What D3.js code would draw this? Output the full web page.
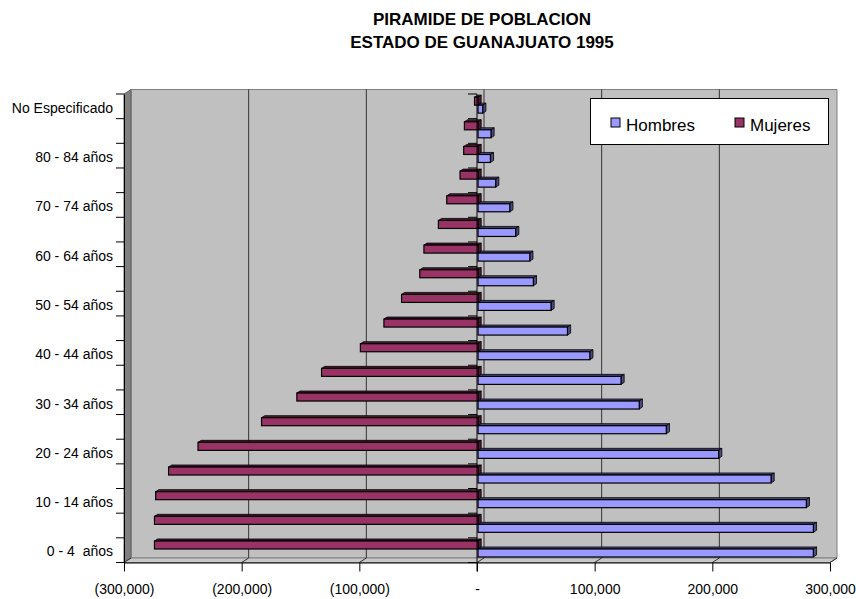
<!DOCTYPE html>
<html>
<head>
<meta charset="utf-8">
<script src="https://cdn.jsdelivr.net/npm/d3@7"></script>
<style>
  body { margin: 0; background: #fff; }
  svg { display: block; }
  text { font-family: "Liberation Sans", Arial, sans-serif; fill: #000; }
</style>
</head>
<body>
<div id="chart"></div>
<script>

var titleLines = ["PIRAMIDE DE POBLACION", "ESTADO DE GUANAJUATO 1995"];

var categories = ["0 - 4  años", "5 - 9 años", "10 - 14 años", "15 - 19 años", "20 - 24 años",
  "25 - 29 años", "30 - 34 años", "35 - 39 años", "40 - 44 años", "45 - 49 años",
  "50 - 54 años", "55 - 59 años", "60 - 64 años", "65 - 69 años", "70 - 74 años",
  "75 - 79 años", "80 - 84 años", "85 y más", "No Especificado"];

var hombres = [285000, 285000, 279000, 249000, 204500, 160000, 137000, 121500, 95000, 76000,
  62000, 47000, 44000, 32000, 27000, 15000, 10500, 11000, 4000];
var mujeres = [275000, 275000, 274000, 263000, 238000, 184000, 154000, 133000, 100000, 80000,
  65000, 49500, 46000, 33700, 26600, 15300, 12200, 11600, 3000];

var tickValues = [-300000, -200000, -100000, 0, 100000, 200000, 300000];
var tickLabels = ["(300,000)", "(200,000)", "(100,000)", "-", "100,000", "200,000", "300,000"];

var seriesNames = ["Hombres", "Mujeres"];
var seriesColors = { Hombres: "#9999ff", Mujeres: "#993366" };
var shadeColors = { Hombres: "#4c4c80", Mujeres: "#4c1933" };

var width = 856, height = 599;
var plot = { left: 124, right: 830, top: 94, bottom: 562.5 };
var depth = [7, -4.5];   // offset from the front plane to the back wall

function pt(px, py, z) {
  return [px + depth[0] * z, py + depth[1] * z];
}

var svg = d3.select("#chart").append("svg")
  .attr("width", width)
  .attr("height", height);

// title
svg.selectAll("text.title")
  .data(titleLines)
  .enter().append("text")
  .attr("class", "title")
  .attr("x", 482)
  .attr("y", function(d, i) { return 25 + i * 23; })
  .attr("text-anchor", "middle")
  .style("font-weight", "bold")
  .style("font-size", "17px")
  .text(function(d) { return d; });

var x = d3.scaleLinear()
  .domain([-300000, 300000])
  .range([plot.left, plot.right]);

var y = d3.scaleBand()
  .domain(categories)
  .range([plot.bottom, plot.top]);

var bw = y.bandwidth();
var ys = d3.scaleBand()
  .domain(["Mujeres", "Hombres"])
  .range([bw / 2 - 8.5, bw / 2 + 7.5]);

var L = plot.left, R = plot.right, T = plot.top, B = plot.bottom;

// back wall
svg.append("polygon")
  .attr("points", [pt(L, T, 1), pt(R, T, 1), pt(R, B, 1), pt(L, B, 1)].join(" "))
  .attr("fill", "#c0c0c0")
  .attr("stroke", "#808080");

// left wall
svg.append("polygon")
  .attr("points", [pt(L, T, 0), pt(L, T, 1), pt(L, B, 1), pt(L, B, 0)].join(" "))
  .attr("fill", "#808080")
  .attr("stroke", "#606060");

// floor
svg.append("polygon")
  .attr("points", [pt(L, B, 0), pt(R, B, 0), pt(R, B, 1), pt(L, B, 1)].join(" "))
  .attr("fill", "#c8c8c8")
  .attr("stroke", "#808080");

// gridlines on the wall and the floor
var grid = svg.append("g").attr("stroke", "#333").attr("stroke-width", 1);
tickValues.forEach(function(v) {
  var a = pt(x(v), B, 0), b = pt(x(v), B, 1), c = pt(x(v), T, 1);
  grid.append("line")
    .attr("x1", a[0]).attr("y1", a[1]).attr("x2", b[0]).attr("y2", b[1]);
  if (v > -300000 && v < 300000) {
    grid.append("line")
      .attr("x1", b[0]).attr("y1", b[1]).attr("x2", c[0]).attr("y2", c[1]);
  }
});

// 3d bars
var zFront = 0.15, zBack = 0.6;
function bar3d(g, x0, x1, y0, y1, name) {
  var f0 = pt(x0, y0, zFront), f1 = pt(x1, y1, zFront);
  var b0 = pt(x0, y0, zBack), b1 = pt(x1, y1, zBack);
  // top face
  g.append("polygon")
    .attr("points", [[f0[0], f0[1]], [f1[0], f0[1]], [b1[0], b0[1]], [b0[0], b0[1]]].join(" "))
    .attr("fill", shadeColors[name]).attr("stroke", "#000").attr("stroke-width", 0.8);
  // end face
  g.append("polygon")
    .attr("points", [[f1[0], f0[1]], [b1[0], b0[1]], [b1[0], b1[1]], [f1[0], f1[1]]].join(" "))
    .attr("fill", shadeColors[name]).attr("stroke", "#000").attr("stroke-width", 0.8);
  // front face
  g.append("rect")
    .attr("x", f0[0]).attr("y", f0[1])
    .attr("width", f1[0] - f0[0]).attr("height", f1[1] - f0[1])
    .attr("fill", seriesColors[name]).attr("stroke", "#000").attr("stroke-width", 1.2);
}

var bars = svg.append("g");
categories.slice().reverse().forEach(function(cat) {
  var i = categories.indexOf(cat);
  var top = y(cat);
  var yM = top + ys("Mujeres"), yH = top + ys("Hombres");
  bar3d(bars, x(-mujeres[i]), x(0), yM, yM + ys.bandwidth(), "Mujeres");
  bar3d(bars, x(0), x(hombres[i]), yH, yH + ys.bandwidth(), "Hombres");
});

// category boundaries
var bounds = categories.map(function(c) { return y(c); }).concat([B]);

// zero line with small ticks
svg.append("line")
  .attr("x1", x(0)).attr("x2", x(0))
  .attr("y1", T).attr("y2", B + 9)
  .attr("stroke", "#000");
svg.append("g").selectAll("line")
  .data(bounds)
  .enter().append("line")
  .attr("x1", x(0) - 9).attr("x2", x(0))
  .attr("y1", function(d) { return d; }).attr("y2", function(d) { return d; })
  .attr("stroke", "#000");

// value axis
var xAxis = svg.append("g")
  .attr("transform", "translate(0," + B + ")")
  .call(d3.axisBottom(x)
    .tickValues(tickValues)
    .tickFormat(function(d, i) { return tickLabels[i]; })
    .tickSize(9)
    .tickPadding(13)
    .tickSizeOuter(0))
  .attr("font-size", 14);
xAxis.select(".domain").attr("stroke", "#000");

// category axis
var yAxis = svg.append("g")
  .attr("transform", "translate(" + L + ",0)")
  .call(d3.axisLeft(y)
    .tickSize(0)
    .tickPadding(11)
    .tickSizeOuter(0)
    .tickFormat(function(d, i) { return i % 2 === 0 ? d : ""; }))
  .attr("font-size", 14);
yAxis.selectAll("text").attr("dy", "0.45em").style("white-space", "pre");
yAxis.select(".domain").attr("stroke", "#000");

svg.append("g").selectAll("line")
  .data(bounds)
  .enter().append("line")
  .attr("x1", L - 8).attr("x2", L)
  .attr("y1", function(d) { return d; }).attr("y2", function(d) { return d; })
  .attr("stroke", "#000");

// legend
var legend = svg.append("g").attr("transform", "translate(590.5,98.5)");
legend.append("rect")
  .attr("width", 238).attr("height", 46)
  .attr("fill", "#fff").attr("stroke", "#000");
var legendX = [20.5, 144.5];
seriesNames.forEach(function(name, i) {
  legend.append("rect")
    .attr("x", legendX[i]).attr("y", 19.5)
    .attr("width", 9).attr("height", 9)
    .attr("fill", seriesColors[name]).attr("stroke", "#000");
  legend.append("text")
    .attr("x", legendX[i] + 15).attr("y", 32)
    .style("font-size", "17px")
    .text(name);
});

</script>
</body>
</html>
